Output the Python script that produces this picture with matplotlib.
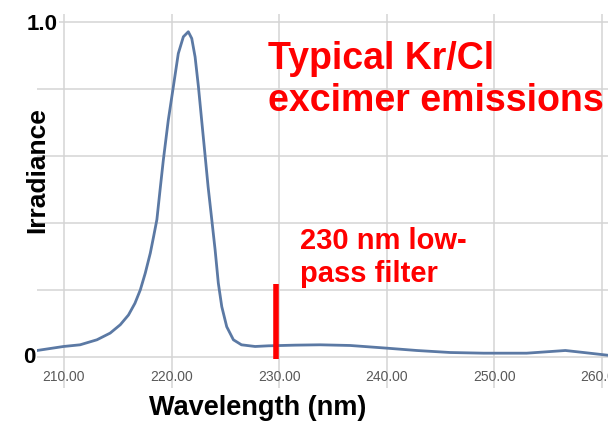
import matplotlib
matplotlib.use("Agg")
import matplotlib.pyplot as plt

plt.rcParams['font.family'] = ['Liberation Sans', 'DejaVu Sans']

wavelength = [207.5, 209.97, 211.5, 213.07, 214.3, 215.24, 216.0, 216.6, 217.1,
              217.56, 218.03, 218.34, 218.64, 218.94, 219.24, 219.7, 220.17, 220.63,
              221.1, 221.56, 221.88, 222.19, 222.5, 222.8, 223.1, 223.4, 223.74,
              224.05, 224.35, 224.67, 225.13, 225.75, 226.5, 227.77, 229.0, 231.5,
              233.8, 236.6, 240.0, 242.8, 245.9, 249.0, 253.0, 256.6, 258.3, 260.5]
irradiance = [0.019, 0.031, 0.036, 0.051, 0.071, 0.096, 0.125, 0.16, 0.20,
              0.25, 0.31, 0.36, 0.41, 0.50, 0.588, 0.707, 0.807, 0.906,
              0.956, 0.971, 0.951, 0.896, 0.807, 0.707, 0.608, 0.508, 0.41,
              0.32, 0.22, 0.15, 0.09, 0.051, 0.036, 0.031, 0.033, 0.035,
              0.036, 0.034, 0.026, 0.019, 0.013, 0.011, 0.011, 0.019, 0.013, 0.005]

x_ticks = [210, 220, 230, 240, 250, 260]
x_tick_labels = ["210.00", "220.00", "230.00", "240.00", "250.00", "260.00"]
y_grid = [0, 0.2, 0.4, 0.6, 0.8, 1.0]
filter_wavelength = 229.7
filter_range = [-0.006, 0.218]

W, H = 608, 424
fig = plt.figure(figsize=(W / 100, H / 100), dpi=100)
ax = fig.add_axes([37 / W, 1 - 388 / H, (W - 37) / W, (388 - 14) / H])
ax.set_xlim(207.5, 260.56)
ax.set_ylim(-0.093, 1.024)
for s in ax.spines.values():
    s.set_visible(False)

grid_color = '#d4d4d4'
for g in y_grid:
    ax.axhline(g, color=grid_color, lw=1.1, zorder=0)
for t in x_ticks:
    ax.axvline(t, color=grid_color, lw=1.1, zorder=0)

ax.plot(wavelength, irradiance, color='#5b79a4', lw=2.0, zorder=3,
        solid_joinstyle='round')
ax.plot([filter_wavelength, filter_wavelength], filter_range, color='#ff0000',
        lw=4, solid_capstyle='butt', zorder=4)

ax.set_xticks(x_ticks)
ax.set_xticklabels(x_tick_labels, color='#595959', fontsize=10)
ax.tick_params(axis='x', length=0, pad=-13)
ax.set_yticks([])

# y tick labels
ax.text(207.5 + (58 - 37) / 10.75, 1.0, "1.0", ha='right', va='center_baseline',
        fontsize=16, fontweight='bold', color='black', zorder=5,
        bbox=dict(facecolor='white', edgecolor='none', pad=1))
fig.text(36 / W, 1 - 355 / H, "0", ha='right', va='center_baseline',
         fontsize=16, fontweight='bold', color='black')

fig.text(37 / W, 1 - 170 / H, "Irradiance", rotation=90, ha='center', va='center',
         fontsize=19, fontweight='bold')
fig.text(258 / W, 1 - 408 / H, "Wavelength (nm)", ha='center', va='center',
         fontsize=19.5, fontweight='bold')

red = '#ff0000'
fig.text(268 / W, 1 - 69 / H, "Typical Kr/Cl", ha='left', va='baseline',
         fontsize=27, fontweight='bold', color=red)
fig.text(268 / W, 1 - 111 / H, "excimer emissions", ha='left', va='baseline',
         fontsize=27, fontweight='bold', color=red)
fig.text(300 / W, 1 - 249 / H, "230 nm low-", ha='left', va='baseline',
         fontsize=21, fontweight='bold', color=red)
fig.text(300 / W, 1 - 282 / H, "pass filter", ha='left', va='baseline',
         fontsize=21, fontweight='bold', color=red)

fig.savefig("out.png", dpi=100)
